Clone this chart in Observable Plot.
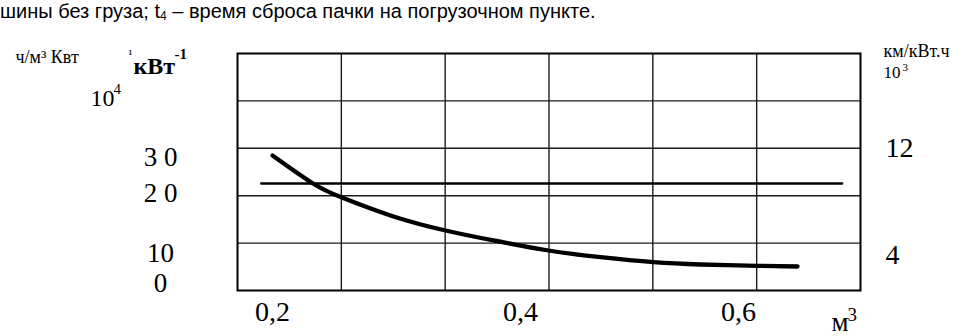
<!DOCTYPE html>
<html><head><meta charset="utf-8">
<script src="https://cdn.jsdelivr.net/npm/d3@7"></script>
<script src="https://cdn.jsdelivr.net/npm/@observablehq/plot@0.6"></script>
<style>
body{margin:0;background:#fff;width:963px;height:336px;overflow:hidden;position:relative;}
#cap{position:absolute;left:0;top:1px;height:30px;line-height:20px;font-family:"Liberation Sans Narrow","Arial Narrow","Liberation Sans",sans-serif;font-size:20px;white-space:nowrap;color:#000;}
#cap sub{font-size:12px;vertical-align:-2px;}
#chart{position:absolute;left:0;top:30px;}
</style></head><body>
<div id="cap">шины без груза; t<sub>4</sub> – время сброса пачки на погрузочном пункте.</div>
<div id="chart"></div>
<script>
// ---- data ----
const volume = [0.2, 0.2323, 0.2565, 0.2976, 0.3395, 0.3782, 0.4257, 0.4734, 0.522, 0.5651, 0.6174, 0.6541];
const energy = [30.56, 22.86, 19.28, 16.17, 13.83, 12.17, 10.5, 8.77, 7.1, 6.33, 5.9, 5.67];
const levelX = [0.191, 0.695];
const levelY = [22.8, 22.8];
const xTicks = [0.2, 0.4, 0.6];
const xTickLabels = ["0,2", "0,4", "0,6"];
const yTicks = [0, 10, 20, 30];
const yTickLabels = ["0", "10", "2 0", "3 0"];
const y2Ticks = [12, 4];
const y2TickLabels = ["12", "4"];

// ---- layout ----
const W = 963, H = 306, mL = 237, mR = 103, mT = 23, mB = 46;
const serif = "'Liberation Serif','Times New Roman',serif";
const xOpts = {type: "linear", domain: xTicks, range: [272, 520, 738]};
const yOpts = {type: "linear", domain: yTicks, range: [253, 223, 163, 127]};
const xs = Plot.scale({x: xOpts});
const ys = Plot.scale({y: yOpts});
const gridX = d3.range(1, 6).map(i => xs.invert(mL + i * (W - mL - mR) / 6));
const gridY = d3.range(1, 5).map(i => ys.invert(mT + i * (H - mT - mB) / 5));
// right axis (км/кВт.ч ×10³) expressed in left-axis units
const y2ToY = d3.scaleLinear().domain([4, 12]).range([9.33, 32.5]);

const curve = volume.map((x, i) => ({x, y: energy[i]}));
const level = levelX.map((x, i) => ({x, y: levelY[i]}));

const lab = (text, o) => Plot.text([text], {text: d => d, fontFamily: serif, fill: "#000", lineAnchor: "bottom", textAnchor: "start", ...o});

const chart = Plot.plot({
  width: W, height: H,
  marginLeft: mL, marginRight: mR, marginTop: mT, marginBottom: mB,
  x: {...xOpts, axis: null},
  y: {...yOpts, axis: null},
  style: {background: "#fff", overflow: "visible"},
  marks: [
    Plot.ruleX(gridX, {stroke: "#1a1a1a", strokeWidth: 1.4}),
    Plot.ruleY(gridY, {stroke: "#1a1a1a", strokeWidth: 1.4}),
    Plot.frame({stroke: "#000", strokeWidth: 2}),
    Plot.line(level, {x: "x", y: "y", stroke: "#000", strokeWidth: 2.5}),
    Plot.line(curve, {x: "x", y: "y", curve: "natural", stroke: "#000", strokeWidth: 4.3, strokeLinecap: "round"}),
    Plot.text(xTicks, {x: d => d, text: (d, i) => xTickLabels[i], frameAnchor: "bottom", dy: 30, fontSize: 28, fontFamily: serif, fill: "#000"}),
    Plot.text(yTicks, {y: d => d, text: (d, i) => yTickLabels[i], frameAnchor: "left", dx: -77, textAnchor: "middle", fontSize: 27, fontFamily: serif, fill: "#000"}),
    Plot.text(y2Ticks, {y: d => y2ToY(d), text: (d, i) => y2TickLabels[i], frameAnchor: "right", dx: 25, textAnchor: "start", fontSize: 28, fontFamily: serif, fill: "#000"}),
    lab("ч/м³ Квт", {frameAnchor: "top-left", dx: -222, dy: 9, fontSize: 18}),
    lab("¹", {frameAnchor: "top-left", dx: -109, dy: 4, fontSize: 13}),
    lab("кВт", {frameAnchor: "top-left", dx: -104, dy: 20, fontSize: 24, fontWeight: "bold"}),
    lab("-1", {frameAnchor: "top-left", dx: -63, dy: 5, fontSize: 15, fontWeight: "bold"}),
    lab("10", {frameAnchor: "top-left", dx: -147, dy: 52, fontSize: 24}),
    lab("4", {frameAnchor: "top-left", dx: -124, dy: 40, fontSize: 15}),
    lab("км/кВт.ч", {frameAnchor: "top-right", dx: 23, dy: 3, fontSize: 18}),
    lab("10", {frameAnchor: "top-right", dx: 23, dy: 24, fontSize: 17}),
    lab("3", {frameAnchor: "top-right", dx: 42, dy: 17, fontSize: 11}),
    lab("м", {frameAnchor: "bottom-right", dx: -29, dy: 40, fontSize: 27}),
    lab("3", {frameAnchor: "bottom-right", dx: -13, dy: 30, fontSize: 19})
  ]
});
document.getElementById("chart").appendChild(chart);
</script>
</body></html>
